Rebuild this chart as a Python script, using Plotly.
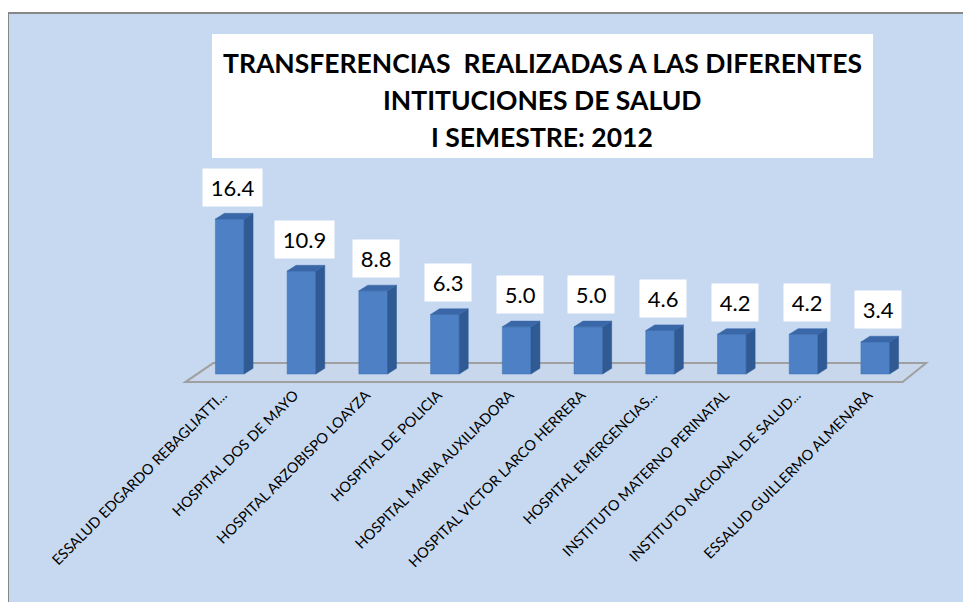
import plotly.graph_objects as go

categories = [
    "ESSALUD EDGARDO REBAGLIATTI...",
    "HOSPITAL DOS DE MAYO",
    "HOSPITAL ARZOBISPO LOAYZA",
    "HOSPITAL DE POLICIA",
    "HOSPITAL MARIA AUXILIADORA",
    "HOSPITAL VICTOR LARCO HERRERA",
    "HOSPITAL EMERGENCIAS...",
    "INSTITUTO MATERNO PERINATAL",
    "INSTITUTO NACIONAL DE SALUD...",
    "ESSALUD GUILLERMO ALMENARA",
]
values = [16.4, 10.9, 8.8, 6.3, 5.0, 5.0, 4.6, 4.2, 4.2, 3.4]
title_lines = [
    "TRANSFERENCIAS  REALIZADAS A LAS DIFERENTES",
    "INTITUCIONES DE SALUD",
    "I SEMESTRE: 2012",
]

OFF = 8  # page body margin
W, H = 971 - OFF, 602 - OFF
XR = [-1, 10]
YR = [-0.95, 20]
SCALE_Y = 9.45  # px per unit
ML, MR, MT = 158 - OFF, 24, 185 - OFF
PW = W - ML - MR
PH = round((YR[1] - YR[0]) * SCALE_Y)
MB = H - MT - PH

FONT = "Lato"
BG = "#c6d9f0"
FRONT = "#4d80c4"
SIDE = "#2f5a94"
TOP = "#3a67a8"

def px_to_paper_x(px):
    return (px - OFF - ML) / PW

def px_to_paper_y(py):
    return 1 - (py - OFF - MT) / PH

half = 0.2
dx, dy = 0.125, 0.6

fig = go.Figure()

idx = list(range(len(categories)))
fig.add_trace(go.Bar(
    x=idx, y=values, width=2 * half,
    marker=dict(color=FRONT, line=dict(color="#4172b3", width=0.5)),
    hoverinfo="skip", showlegend=False,
))

for i, v in zip(idx, values):
    sx = [i + half, i + half, i + half + dx, i + half + dx, i + half]
    sy = [0, v, v + dy, dy, 0]
    fig.add_trace(go.Scatter(x=sx, y=sy, fill="toself", fillcolor=SIDE, mode="lines",
                             line=dict(color=SIDE, width=0.5), hoverinfo="skip", showlegend=False))
    tx = [i - half, i + half, i + half + dx, i - half + dx, i - half]
    ty = [v, v, v + dy, v + dy, v]
    fig.add_trace(go.Scatter(x=tx, y=ty, fill="toself", fillcolor=TOP, mode="lines",
                             line=dict(color=TOP, width=0.5), hoverinfo="skip", showlegend=False))

n = len(categories)
shapes = [
    dict(type="rect", xref="paper", yref="paper",
         x0=px_to_paper_x(8), x1=px_to_paper_x(990), y0=px_to_paper_y(13), y1=px_to_paper_y(620),
         fillcolor=BG, line=dict(color="#878787", width=2), layer="below"),
    dict(type="rect", xref="paper", yref="paper",
         x0=px_to_paper_x(212), x1=px_to_paper_x(873), y0=px_to_paper_y(34), y1=px_to_paper_y(158),
         fillcolor="white", line=dict(width=0), layer="below"),
    dict(type="path", xref="x", yref="y",
         path=f"M {-0.62},{-0.85} L {n - 0.62},{-0.85} L {n - 0.29},{1.16} L {-0.23},{1.16} Z",
         fillcolor="#c8d7ec", line=dict(color="#a0a0a0", width=2), layer="below"),
]

annotations = []
for k, line in enumerate(title_lines):
    annotations.append(dict(
        xref="paper", yref="paper", x=px_to_paper_x(542), y=px_to_paper_y(63 + 37 * k),
        text=f"<b>{line}</b>", showarrow=False, xanchor="center", yanchor="middle",
        font=dict(family=FONT, size=26.5, color="black"),
    ))
for i, v in zip(idx, values):
    annotations.append(dict(
        x=i, y=v, text=f"\u2009{v:.1f}\u2009", showarrow=False, xanchor="center", yanchor="middle",
        xshift=3, yshift=32, bgcolor="white", borderpad=5,
        font=dict(family=FONT, size=22, color="black"),
    ))

fig.update_layout(
    width=W, height=H, autosize=False,
    margin=dict(l=ML, r=MR, t=MT, b=MB),
    paper_bgcolor="white", plot_bgcolor="rgba(0,0,0,0)",
    shapes=shapes, annotations=annotations,
    xaxis=dict(range=XR, tickvals=idx, ticktext=categories, tickangle=-45,
               showgrid=False, zeroline=False, showline=False, ticks="",
               ticklabelshift=-7,
               tickfont=dict(family=FONT, size=14.5, color="black")),
    yaxis=dict(range=YR, visible=False, showgrid=False, zeroline=False),
    showlegend=False,
)

fig.write_html("out.html")
